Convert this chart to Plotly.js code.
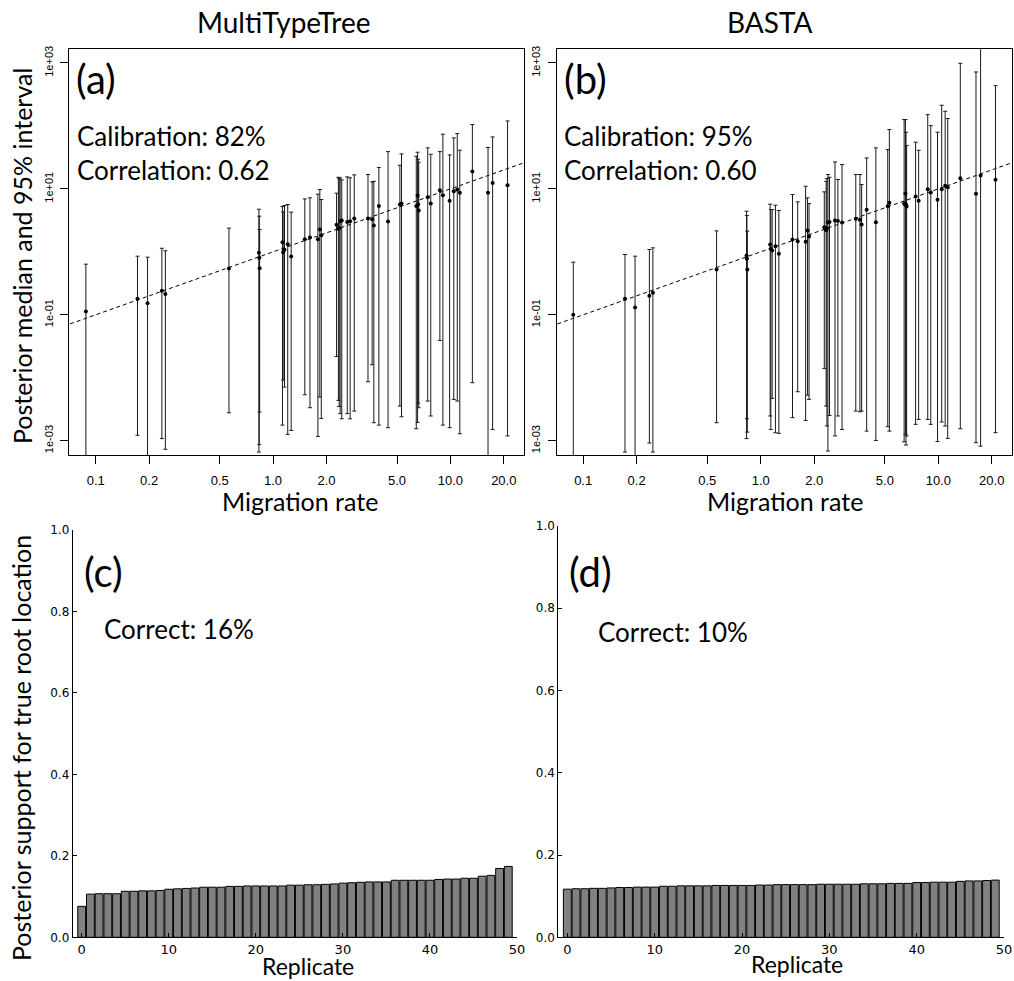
<!DOCTYPE html>
<html>
<head>
<meta charset="utf-8">
<script src="https://cdn.plot.ly/plotly-3.0.1.min.js"></script>
<style>
  html, body { margin: 0; padding: 0; background: #fff; }
  #chart { width: 1014px; height: 981px; }
</style>
</head>
<body>
<div id="chart"></div>
<script>
// ---------- data ----------
const migrationRate = [0.088,0.172,0.196,0.236,0.247,0.564,0.832,0.836,0.840,1.13,
  1.14,1.16,1.21,1.265,1.51,1.615,1.79,1.835,1.87,2.28,
  2.335,2.36,2.39,2.44,2.62,2.72,2.87,3.43,3.62,3.70,
  3.95,4.45,5.19,5.30,6.42,6.53,6.58,6.63,7.45,7.75,
  8.72,9.07,9.9,10.45,10.93,11.3,13.3,16.3,17.3,21.0];

const mttMedian = [0.113,0.1795,0.153,0.240,0.213,0.543,0.964,0.803,0.551,1.423,
  0.988,1.076,1.323,0.843,1.589,1.689,1.589,2.262,1.839,2.683,
  2.317,2.40,3.068,3.14,2.99,3.068,3.38,3.38,3.30,2.62,
  5.37,3.03,5.64,5.85,5.37,7.84,5.64,4.53,7.37,5.85,
  9.52,7.93,6.45,9.18,9.76,8.64,18.8,8.64,12.45,11.43];
const mttUpper = [0.637,0.853,0.822,1.14,1.04,2.38,4.75,3.68,2.26,5.24,
  4.32,5.44,5.64,4.27,6.93,7.2,8.23,9.76,6.77,8.54,
  15.3,14.5,14.95,13.9,15.5,14.95,16.67,16.9,12.9,13.2,
  21.8,39.1,23.75,35.9,33.0,38.2,29.6,26.5,44.8,35.5,
  39.1,73.8,34.6,64.5,75.5,41.1,105,45.3,66.9,120];
const mttLower = [0.0001,0.00122,0.0001,0.00108,0.00073,0.00278,0.00066,0.000865,0.00285,0.00177,
  0.00918,0.00711,0.00126,0.00146,0.00537,0.00334,0.00117,0.00493,0.00226,0.0218,
  0.00437,0.0035,0.00269,0.00223,0.00269,0.00223,0.00296,0.00865,0.0161,0.00193,
  0.00177,0.00161,0.00355,0.0024,0.00155,0.00195,0.00396,0.00334,0.00427,0.00247,
  0.0392,0.00177,0.00161,0.00453,0.00427,0.00129,0.00834,0.0001,0.00151,0.00119];

const bastaMedian = [0.1,0.1795,0.1306,0.2003,0.2233,0.525,0.875,0.774,0.525,1.307,
  1.116,1.05,1.23,0.93,1.57,1.477,1.441,2.18,1.752,2.46,
  2.21,2.38,2.96,2.99,3.14,3.10,2.92,3.34,3.22,2.72,
  4.64,2.96,5.31,6.0,5.78,8.44,5.64,5.24,7.55,6.45,
  9.88,8.75,6.69,9.88,11.2,10.6,14.8,8.33,16.3,13.9];
const bastaUpper = [0.685,0.908,0.853,1.089,1.157,2.154,4.42,3.77,2.13,5.71,
  4.70,4.70,5.50,4.53,8.13,6.22,11.0,7.2,5.85,8.96,
  13.2,14.6,16.9,15.3,26.8,14.1,24.3,16.9,16.9,11.7,
  31.0,44.8,42.1,87.5,126,126,79.3,48.7,55.1,41.1,
  151,101,79.3,213,171,131,988,719,100000,437];
const bastaLower = [0.0001,0.00066,0.0001,0.000919,0.00066,0.00193,0.00108,0.00223,0.00137,0.00247,
  0.00151,0.0047,0.00134,0.00131,0.00232,0.006,0.0021,0.0053,0.00453,0.01406,
  0.00355,0.00171,0.000686,0.00252,0.00119,0.00247,0.00151,0.00296,0.00288,0.00296,
  0.00142,0.00101,0.00167,0.00142,0.00096,0.00126,0.000853,0.00119,0.00182,0.00218,
  0.00218,0.00182,0.00097,0.00198,0.00171,0.00109,0.00155,0.00093,0.00082,0.00134];

const replicate = [0,1,2,3,4,5,6,7,8,9,10,11,12,13,14,15,16,17,18,19,20,21,22,23,24,
  25,26,27,28,29,30,31,32,33,34,35,36,37,38,39,40,41,42,43,44,45,46,47,48,49];
const mttSupport = [0.076,0.106,0.107,0.107,0.107,0.113,0.113,0.114,0.114,0.115,
  0.118,0.119,0.120,0.121,0.123,0.123,0.123,0.125,0.125,0.126,
  0.126,0.126,0.126,0.126,0.128,0.128,0.129,0.129,0.130,0.131,
  0.133,0.134,0.135,0.136,0.136,0.136,0.140,0.140,0.140,0.140,
  0.140,0.142,0.143,0.143,0.145,0.145,0.150,0.152,0.169,0.174];
const bastaSupport = [0.117,0.118,0.118,0.119,0.119,0.120,0.121,0.121,0.122,0.122,
  0.122,0.124,0.124,0.125,0.125,0.125,0.125,0.126,0.126,0.126,
  0.126,0.126,0.127,0.127,0.128,0.128,0.128,0.128,0.128,0.129,
  0.129,0.129,0.129,0.129,0.130,0.130,0.130,0.131,0.131,0.131,
  0.133,0.133,0.134,0.134,0.134,0.136,0.137,0.137,0.138,0.139];

const xTickVals = [0.1,0.2,0.5,1,2,5,10,20];
const xTickText = ['0.1','0.2','0.5','1.0','2.0','5.0','10.0','20.0'];
const yTickVals = [0.001,0.1,10,1000];
const yTickText = ['1e-03','1e-01','1e+01','1e+03'];
const barXTicks = [0,10,20,30,40,50];

// ---------- helpers ----------
const W = 1014, H = 981;
const px = x => x / W;
const py = y => 1 - y / H;
const TXT = 'Lato, "Open Sans", sans-serif';
const identity = [0.01, 100];

function scatterPanel(med, up, lo, xa, ya) {
  return [{
    type: 'scatter', mode: 'lines', x: identity, y: identity,
    xaxis: xa, yaxis: ya, line: {color: '#000', width: 1, dash: '4px,3px'},
    hoverinfo: 'skip', showlegend: false
  }, {
    type: 'scatter', mode: 'markers', x: migrationRate, y: med,
    xaxis: xa, yaxis: ya,
    marker: {color: '#000', size: 4},
    error_y: {type: 'data', symmetric: false,
      array: med.map((m, i) => up[i] - m),
      arrayminus: med.map((m, i) => m - lo[i]),
      color: '#1a1a1a', thickness: 1, width: 2},
    showlegend: false
  }];
}
function barPanel(vals, xa, ya) {
  return {
    type: 'bar', x: replicate, y: vals, xaxis: xa, yaxis: ya, width: 0.9,
    marker: {color: '#808080', line: {color: '#000', width: 1}}, showlegend: false
  };
}

const data = [
  ...scatterPanel(mttMedian, mttUpper, mttLower, 'x', 'y'),
  ...scatterPanel(bastaMedian, bastaUpper, bastaLower, 'x2', 'y2'),
  barPanel(mttSupport, 'x3', 'y3'),
  barPanel(bastaSupport, 'x4', 'y4')
];

const logX = (dom, anchor) => ({
  type: 'log', domain: dom, anchor: anchor, range: [-1.149, 1.415],
  tickvals: xTickVals, ticktext: xTickText, ticks: 'outside', ticklen: 8, tickcolor: '#000',
  showline: true, mirror: true, linecolor: '#000', linewidth: 1,
  showgrid: false, zeroline: false, ticklabelstandoff: 5,
  tickfont: {family: '"Liberation Sans", Arial, sans-serif', size: 13, color: '#000'}
});
const logY = (dom, anchor) => ({
  type: 'log', domain: dom, anchor: anchor, range: [-3.227, 3.217],
  tickvals: yTickVals, ticktext: yTickText, tickangle: -90, ticks: 'outside', ticklen: 8,
  tickcolor: '#000', showline: true, mirror: true, linecolor: '#000', linewidth: 1,
  showgrid: false, zeroline: false, ticklabelstandoff: 3,
  tickfont: {family: '"Liberation Sans", Arial, sans-serif', size: 11, color: '#000'}
});
const linX = (dom, anchor) => ({
  domain: dom, anchor: anchor, range: [-1.034, 50], tickvals: barXTicks,
  ticks: 'inside', ticklen: 4, tickcolor: '#000', showline: true, linecolor: '#000',
  linewidth: 1, showgrid: false, zeroline: false,
  tickfont: {family: '"DejaVu Sans", sans-serif', size: 13, color: '#000'}
});
const linY = (dom, anchor) => ({
  domain: dom, anchor: anchor, range: [0, 1], dtick: 0.2, tickformat: '.1f',
  ticks: 'inside', ticklen: 4, tickcolor: '#000', showline: true, linecolor: '#000',
  linewidth: 1, showgrid: false, zeroline: false,
  tickfont: {family: '"DejaVu Sans", sans-serif', size: 12, color: '#000'}
});

function ann(text, x, y, size, opts) {
  return Object.assign({
    text: text, xref: 'paper', yref: 'paper', x: px(x), y: py(y),
    xanchor: 'center', yanchor: 'middle', showarrow: false,
    font: {family: TXT, size: size, color: '#000'}
  }, opts || {});
}

const layout = {
  width: W, height: H, margin: {l: 0, r: 0, t: 0, b: 0},
  paper_bgcolor: '#fff', plot_bgcolor: '#fff', showlegend: false, bargap: 0,
  xaxis: logX([px(69.3), px(524)], 'y'),
  yaxis: logY([py(455), py(49.3)], 'x'),
  xaxis2: logX([px(556.7), px(1012)], 'y2'),
  yaxis2: logY([py(455), py(49.3)], 'x2'),
  xaxis3: linX([px(72.7), px(517)], 'y3'),
  yaxis3: linY([py(937.3), py(530)], 'x3'),
  xaxis4: linX([px(558.3), px(1004)], 'y4'),
  yaxis4: linY([py(937.3), py(525.8)], 'x4'),
  annotations: [
    ann('MultiTypeTree', 284, 22, 28),
    ann('BASTA', 770, 22, 28),
    ann('(a)', 74, 79, 40, {xanchor: 'left'}),
    ann('Calibration: 82%', 75, 136, 26, {xanchor: 'left'}),
    ann('Correlation: 0.62', 75, 170, 26, {xanchor: 'left'}),
    ann('(b)', 562, 79, 40, {xanchor: 'left'}),
    ann('Calibration: 95%', 562, 136, 26, {xanchor: 'left'}),
    ann('Correlation: 0.60', 562, 170, 26, {xanchor: 'left'}),
    ann('Migration rate', 300, 501, 25),
    ann('Migration rate', 785, 501, 25),
    ann('Posterior median and 95% interval', 22, 256, 25, {textangle: -90}),
    ann('(c)', 82, 572, 40, {xanchor: 'left'}),
    ann('Correct: 16%', 102, 629, 26, {xanchor: 'left'}),
    ann('(d)', 567, 572, 40, {xanchor: 'left'}),
    ann('Correct: 10%', 596, 632, 26, {xanchor: 'left'}),
    ann('Replicate', 308, 966, 23),
    ann('Replicate', 797, 964, 23),
    ann('Posterior support for true root location', 21, 748, 25, {textangle: -90})
  ]
};

Plotly.newPlot('chart', data, layout, {staticPlot: true, displayModeBar: false});
</script>
</body>
</html>
